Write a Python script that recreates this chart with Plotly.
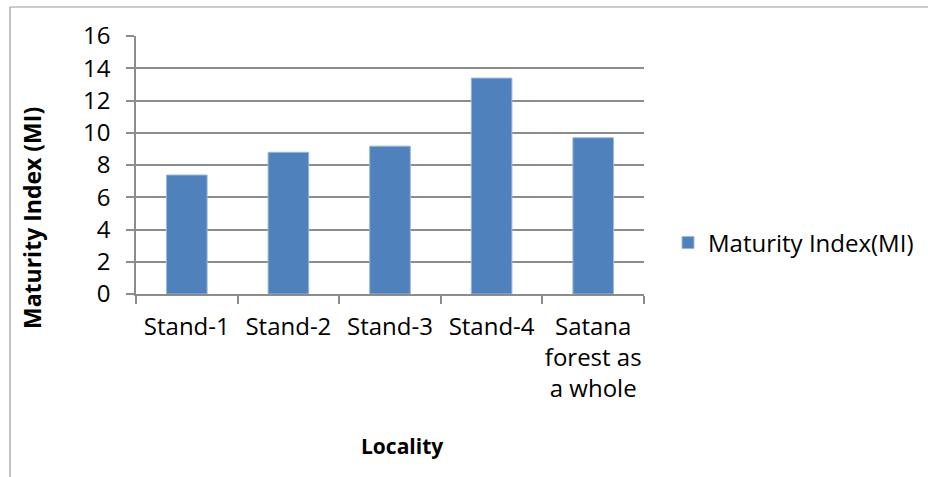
import plotly.graph_objects as go

# Maturity Index by locality
localities = ["Stand-1", "Stand-2", "Stand-3", "Stand-4", "Satana<br>forest as<br>a whole"]
maturity_index = [7.38, 8.79, 9.17, 13.39, 9.69]
y_ticks = [0, 2, 4, 6, 8, 10, 12, 14, 16]
series_name = "Maturity Index(MI)"

FONT = "Open Sans"
BAR_BLUE = "#4F81BD"
GRID = "#8C8C8C"
TICK_SIZE = 24

fig = go.Figure()
fig.add_trace(go.Bar(
    x=localities,
    y=maturity_index,
    name=series_name,
    marker=dict(color=BAR_BLUE, line=dict(color="#9DB8DA", width=1)),
))

fig.update_layout(
    width=928,
    height=477,
    margin=dict(l=136, r=284, t=36, b=183, autoexpand=False),
    paper_bgcolor="white",
    plot_bgcolor="white",
    bargap=0.6,
    font=dict(family=FONT, size=TICK_SIZE, color="black"),
    showlegend=True,
    legend=dict(
        xref="container", yref="container",
        x=668 / 928, xanchor="left",
        y=1 - 243 / 477, yanchor="middle",
        font=dict(family=FONT, size=TICK_SIZE, color="black"),
        itemwidth=30,
        bgcolor="rgba(0,0,0,0)",
    ),
    xaxis=dict(
        automargin=False,
        showline=True, linecolor=GRID, linewidth=1.5,
        ticks="outside", ticklen=8, tickcolor=GRID, tickwidth=1.5,
        tickson="boundaries",
        showgrid=False,
        tickfont=dict(family=FONT, size=TICK_SIZE),
        tickangle=0,
        ticklabelstandoff=10,
    ),
    yaxis=dict(
        automargin=False,
        range=[0, 16],
        tickvals=y_ticks,
        showline=True, linecolor=GRID, linewidth=1.5,
        ticks="outside", ticklen=8, tickcolor=GRID, tickwidth=1.5,
        showgrid=True, gridcolor=GRID, gridwidth=1.5,
        zeroline=False,
        tickfont=dict(family=FONT, size=TICK_SIZE),
        ticklabelstandoff=11,
    ),
    annotations=[
        dict(
            text="<b>Maturity Index (MI)</b>",
            xref="paper", yref="paper",
            x=0, y=0.5, xshift=-104, yshift=-53,
            textangle=-90,
            showarrow=False,
            font=dict(family=FONT, size=23, color="black"),
            xanchor="center", yanchor="middle",
        ),
        dict(
            text="<b>Locality</b>",
            xref="paper", yref="paper",
            x=0.5, y=0, xshift=12, yshift=-152,
            showarrow=False,
            font=dict(family=FONT, size=21, color="black"),
            xanchor="center", yanchor="middle",
        ),
    ],
    shapes=[
        # chart-area frame (top and left edges)
        dict(type="line", xref="paper", yref="paper",
             xsizemode="pixel", ysizemode="pixel",
             xanchor=0, yanchor=0,
             x0=-126, x1=800, y0=287, y1=287,
             line=dict(color="#9A9A9A", width=1.2)),
        dict(type="line", xref="paper", yref="paper",
             xsizemode="pixel", ysizemode="pixel",
             xanchor=0, yanchor=0,
             x0=-126, x1=-126, y0=-190, y1=287,
             line=dict(color="#9A9A9A", width=1.2)),
    ],
)

fig.write_html("out.html")
